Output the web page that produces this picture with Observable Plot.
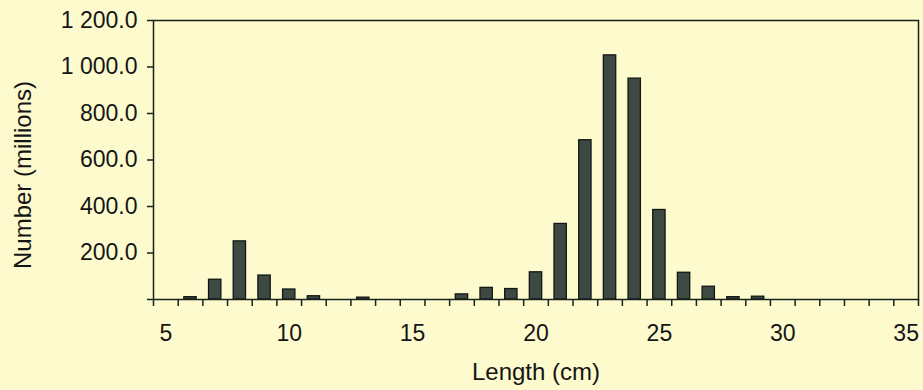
<!DOCTYPE html>
<html>
<head>
<meta charset="utf-8">
<script src="https://cdn.jsdelivr.net/npm/d3@7"></script>
<script src="https://cdn.jsdelivr.net/npm/@observablehq/plot@0.6"></script>
<style>
  html, body { margin: 0; padding: 0; background: #fdfacd; }
  #chart svg { display: block; }
</style>
</head>
<body>
<div id="chart"></div>
<script>
// Length classes (cm) on the category axis
const lengths = [5, 6, 7, 8, 9, 10, 11, 12, 13, 14, 15, 16, 17, 18, 19, 20,
                 21, 22, 23, 24, 25, 26, 27, 28, 29, 30, 31, 32, 33, 34, 35];
// Number (millions) per length class
const numbers = [0, 10, 85, 250, 103, 43, 14, 0, 8, 0, 0, 0, 22, 50, 45, 117,
                 325, 685, 1050, 950, 385, 115, 55, 10, 12, 0, 0, 0, 0, 0, 0];
const yTicks = [0, 200, 400, 600, 800, 1000, 1200];
const xLabelTicks = [5, 10, 15, 20, 25, 30, 35];
const xLabel = "Length (cm)";
const yLabel = "Number (millions)";

const data = lengths.map((len, i) => ({len, value: numbers[i]}));
// category boundaries (Excel-style ticks between categories)
const boundaries = lengths.map(l => l - 0.5).concat([lengths[lengths.length - 1] + 0.5]);

const fmt = d3.formatLocale({decimal: ".", thousands: "\u00a0", grouping: [3], currency: ["", ""]}).format(",.1f");
const ink = "#18221c";

const chart = Plot.plot({
  width: 923,
  height: 390,
  marginLeft: 153,
  marginRight: 5,
  marginTop: 20,
  marginBottom: 91,
  style: {
    background: "transparent",
    fontFamily: "'Liberation Sans', Arial, sans-serif",
    fontSize: "23px",
    color: "#151515"
  },
  x: {type: "linear", domain: [lengths[0] - 0.5, lengths[lengths.length - 1] + 0.5]},
  y: {domain: [0, 1200]},
  marks: [
    Plot.rectY(data, {
      x1: d => d.len - 0.25,
      x2: d => d.len + 0.25,
      y: "value",
      fill: "#3f4943",
      stroke: "#111814",
      strokeWidth: 1.3
    }),
    Plot.frame({stroke: ink, strokeWidth: 1.5}),
    Plot.axisY({
      ticks: yTicks,
      tickFormat: d => d === 0 ? "" : fmt(d),
      tickSize: 6,
      tickPadding: 10,
      label: null,
      stroke: ink,
      strokeWidth: 1.5
    }),
    Plot.axisX({
      ticks: boundaries,
      tickFormat: () => "",
      tickSize: 7,
      label: null,
      stroke: ink,
      strokeWidth: 1.5
    }),
    Plot.axisX({
      ticks: xLabelTicks,
      tickFormat: d => String(d),
      tickSize: 0,
      tickPadding: 25,
      label: null
    }),
    Plot.text([yLabel], {
      text: d => d,
      frameAnchor: "left",
      textAnchor: "middle",
      lineAnchor: "middle",
      rotate: -90,
      dx: -130,
      dy: 15,
      fontSize: 24,
      fill: "#151515"
    }),
    Plot.text([xLabel], {
      text: d => d,
      frameAnchor: "bottom",
      textAnchor: "middle",
      lineAnchor: "middle",
      dy: 73,
      fontSize: 24,
      fill: "#151515"
    })
  ]
});
document.getElementById("chart").appendChild(chart);
</script>
</body>
</html>
